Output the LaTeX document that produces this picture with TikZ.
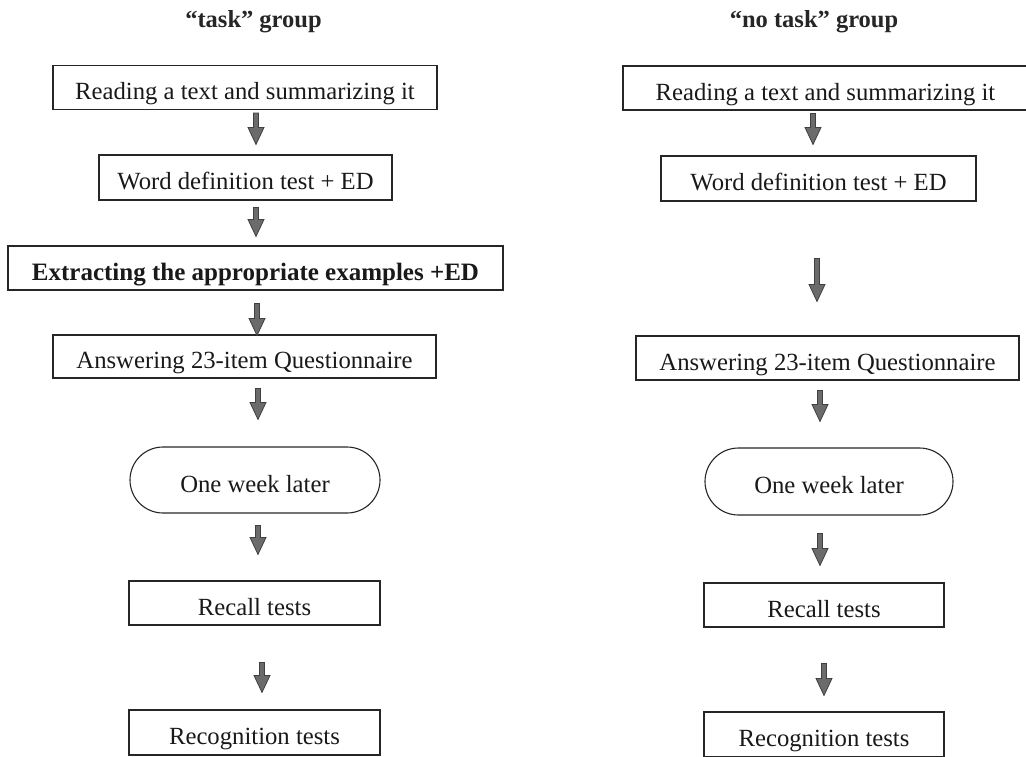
\documentclass[tikz,border=0pt]{standalone}
\usepackage{fontspec}
\setmainfont{Liberation Serif}
\usetikzlibrary{calc,shapes.misc}
\begin{document}
\begin{tikzpicture}[x=1pt,y=-1pt,
  box/.style={draw=black!85, line width=1.1pt, inner sep=0pt, minimum height=44pt,
    text height=24.5pt, text depth=0pt,
    font=\fontsize{24.7}{28}\selectfont, text=black!90},
  pill/.style={box, rounded rectangle, minimum height=66pt},
  title/.style={font=\fontsize{24.5}{28}\selectfont\bfseries, text=black!85},
  barrow/.style={draw=black!75, line width=0.8pt, fill=black!58, line join=miter,
    to path={let \p1=(\tikztostart), \p2=(\tikztotarget) in
      (\x1-2.5pt,\y1) -- (\x1+2.5pt,\y1) -- (\x1+2.5pt,\y2+17pt) -- (\x1+8pt,\y2+17pt)
      -- (\x1,\y2) -- (\x1-8pt,\y2+17pt) -- (\x1-2.5pt,\y2+17pt) -- cycle}}]
\useasboundingbox (0,0) rectangle (1026,756);

% titles
\node[title] (tL) at (253.5,22) {“task” group};
\node[title] (tR) at (814,22) {“no task” group};

% left column
\node[box, minimum width=384pt] (L1) at (245,87.5) {Reading a text and summarizing it};
\node[box, minimum width=293pt, minimum height=45pt] (L2) at (245.5,177.5) {Word definition test + ED};
\node[box, minimum width=495pt, font=\fontsize{25}{28}\selectfont\bfseries] (L3) at (255.5,268) {Extracting the appropriate examples +ED};
\node[box, minimum width=383pt, minimum height=43pt] (L4) at (244.5,356.5) {Answering 23-item Questionnaire};
\node[pill, minimum width=250pt] (L5) at (255,480) {One week later};
\node[box, minimum width=251pt] (L6) at (254.5,603) {Recall tests};
\node[box, minimum width=251pt, minimum height=45pt] (L7) at (254.5,732.5) {Recognition tests};

% right column
\node[box, minimum width=405pt] (R1) at (825.5,88) {Reading a text and summarizing it};
\node[box, minimum width=315pt, minimum height=45pt] (R2) at (818.5,178.5) {Word definition test + ED};
\node[box, minimum width=383pt] (R4) at (827.5,358) {Answering 23-item Questionnaire};
\node[pill, minimum width=248pt, minimum height=67pt] (R5) at (829,481.5) {One week later};
\node[box, minimum width=240pt] (R6) at (824,605) {Recall tests};
\node[box, minimum width=240pt, minimum height=45pt] (R7) at (824,734.5) {Recognition tests};

% left arrows
\draw[barrow] ($(L1.south)+(11,3)$) to ($(L2.north)+(10.5,-10)$);
\draw[barrow] ($(L2.south)+(10.5,7)$) to ($(L3.north)+(0,-9)$);
\draw[barrow] ($(L3.south)+(1.5,13)$) to ($(L4.north)+(0,1)$);
\draw[barrow] ($(L4.south)+(13.5,10)$) to ($(L5.north)+(0,-27)$);
\draw[barrow] ($(L5.south)+(3,12)$) to ($(L6.north)+(0,-26)$);
\draw[barrow] ($(L6.south)+(7.5,37)$) to ($(L7.north)+(0,-17)$);

% right arrows
\draw[barrow] ($(R1.south)+(-12.5,3)$) to ($(R2.north)+(0,-11)$);
\draw[barrow] ($(R2.south)+(-1.5,57)$) to ($(R4.north)+(0,-34)$);
\draw[barrow] ($(R4.south)+(-7.5,10)$) to ($(R5.north)+(0,-26)$);
\draw[barrow] ($(R5.south)+(-9,18)$) to ($(R6.north)+(0,-17)$);
\draw[barrow] ($(R6.south)+(0,36)$) to ($(R7.north)+(0,-16)$);
\end{tikzpicture}
\end{document}
